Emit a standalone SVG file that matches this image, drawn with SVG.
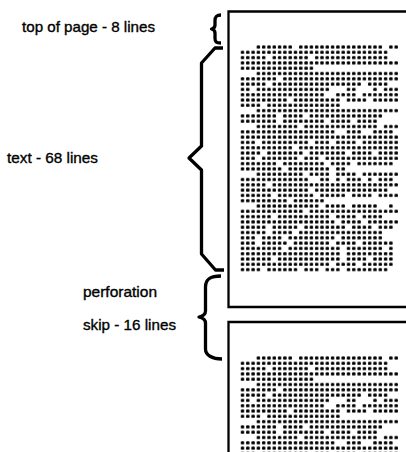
<svg xmlns="http://www.w3.org/2000/svg" xmlns:xlink="http://www.w3.org/1999/xlink" width="406" height="452" viewBox="0 0 406 452">
<style>
.lbl{font-family:"Liberation Sans",Arial,Helvetica,sans-serif;font-size:15px;fill:#000;stroke:#000;stroke-width:0.35}
.page{fill:none;stroke:#000;stroke-width:2.3}
.brace{fill:none;stroke:#000;stroke-width:3.3;stroke-linejoin:round;stroke-linecap:butt}
.dots{fill:url(#dotgrid)}
</style>
<defs>
<pattern id="dotgrid" patternUnits="userSpaceOnUse" x="0" y="0" width="1" height="1">
<rect x="0.18" y="0.19" width="0.64" height="0.62" rx="0.2" fill="#000"/>
</pattern>
<g id="txt" transform="translate(239.85,44.35) scale(5.3)">
<path class="dots" d="M3 0h7v1H3z M11 0h16v1H11z M28 0h2v1H28z
M0 1h28v1H0z
M0 2h5v1H0z M6 2h7v1H6z M14 2h14v1H14z
M0 3h30v1H0z
M0 4h14v1H0z
M3 5h27v1H3z
M0 6h7v1H0z M8 6h22v1H8z
M0 7h5v1H0z M6 7h17v1H6z M24 7h4v1H24z
M0 8h2v1H0z M3 8h14v1H3z M20 8h2v1H20z M25 8h1v1H25z M27 8h3v1H27z
M0 9h16v1H0z M18 9h4v1H18z M23 9h7v1H23z
M0 10h9v1H0z M10 10h9v1H10z M20 10h4v1H20z M25 10h5v1H25z
M0 11h4v1H0z M5 11h14v1H5z
M3 12h27v1H3z
M0 13h7v1H0z M8 13h4v1H8z M13 13h14v1H13z
M0 14h7v1H0z M8 14h8v1H8z M17 14h4v1H17z M22 14h4v1H22z
M3 15h8v1H3z M12 15h14v1H12z M27 15h3v1H27z
M0 16h18v1H0z M20 16h3v1H20z M25 16h4v1H25z
M0 17h30v1H0z
M0 18h3v1H0z M4 18h9v1H4z M14 18h3v1H14z M18 18h4v1H18z M23 18h7v1H23z
M0 19h10v1H0z M11 19h19v1H11z
M0 20h4v1H0z M5 20h7v1H5z M13 20h7v1H13z M21 20h4v1H21z M26 20h4v1H26z
M0 21h3v1H0z M4 21h7v1H4z M12 21h3v1H12z M16 21h14v1H16z
M0 22h7v1H0z M8 22h8v1H8z M17 22h4v1H17z M22 22h7v1H22z
M0 23h8v1H0z M9 23h8v1H9z M18 23h2v1H18z
M3 24h9v1H3z M13 24h4v1H13z M18 24h4v1H18z M23 24h7v1H23z
M0 25h13v1H0z M15 25h2v1H15z M18 25h1v1H18z M20 25h3v1H20z M24 25h1v1H24z M26 25h3v1H26z
M0 26h5v1H0z M6 26h24v1H6z
M0 27h13v1H0z M14 27h14v1H14z
M0 28h6v1H0z M7 28h7v1H7z M15 28h5v1H15z M21 28h4v1H21z M26 28h4v1H26z
M0 29h9v1H0z M10 29h6v1H10z
M3 30h12v1H3z M16 30h4v1H16z M21 30h5v1H21z M28 30h1v1H28z
M0 31h12v1H0z M13 31h17v1H13z
M0 32h6v1H0z M7 32h10v1H7z M18 32h4v1H18z M23 32h4v1H23z
M0 33h18v1H0z M19 33h4v1H19z M24 33h6v1H24z
M0 34h5v1H0z M6 34h5v1H6z M12 34h8v1H12z M21 34h4v1H21z M26 34h3v1H26z
M0 35h5v1H0z M6 35h4v1H6z M11 35h16v1H11z
M0 36h3v1H0z M4 36h4v1H4z M9 36h9v1H9z M19 36h8v1H19z
M0 37h3v1H0z M4 37h5v1H4z M10 37h7v1H10z M18 37h4v1H18z M23 37h6v1H23z
M0 38h8v1H0z M9 38h10v1H9z M20 38h7v1H20z M28 38h1v1H28z
M0 39h19v1H0z M20 39h9v1H20z
M0 40h6v1H0z M7 40h12v1H7z M20 40h4v1H20z M25 40h4v1H25z
M0 41h17v1H0z M18 41h4v1H18z M23 41h6v1H23z
M0 42h4v1H0z M5 42h6v1H5z M12 42h3v1H12z M16 42h3v1H16z M20 42h8v1H20z"/>
</g>
</defs>
<rect width="406" height="452" fill="#fff"/>

<g id="page1">
<path class="page" d="M408 11.5 H228.5 V307 H408"/>
<use xlink:href="#txt" href="#txt"/>
</g>

<g id="page2">
<path class="page" d="M408 322 H228.5 V454"/>
<use xlink:href="#txt" href="#txt" transform="translate(0,311)"/>
</g>

<g id="label-top"><text class="lbl" x="22" y="32" textLength="133" lengthAdjust="spacingAndGlyphs">top of page - 8 lines</text></g>
<g id="label-text"><text class="lbl" x="7" y="163" textLength="91" lengthAdjust="spacingAndGlyphs">text - 68 lines</text></g>
<g id="label-perforation"><text class="lbl" x="83" y="297" textLength="74" lengthAdjust="spacingAndGlyphs">perforation</text></g>
<g id="label-skip"><text class="lbl" x="83" y="330" textLength="93" lengthAdjust="spacingAndGlyphs">skip - 16 lines</text></g>

<g id="connectors">
<path id="brace-top" class="brace" d="M221 15 C216 15 215 17 215 21 V25 C215 27 214 28.5 211.5 29 C214 29.5 215 31 215 33 V38 C215 42 216 43 221 43"/>
<path id="brace-text" class="brace" d="M223 48 H215 L201.5 63 V146 L189 158 L201.5 170 V254 L215.5 270 H224"/>
<path id="brace-skip" class="brace" d="M221 276 C212 276 205.5 278 205.5 287 V311 C205.5 314 203 316 199 317 C203 318 205.5 320 205.5 323 V349 C205.5 355 212 359 222 359"/>
</g>
</svg>
